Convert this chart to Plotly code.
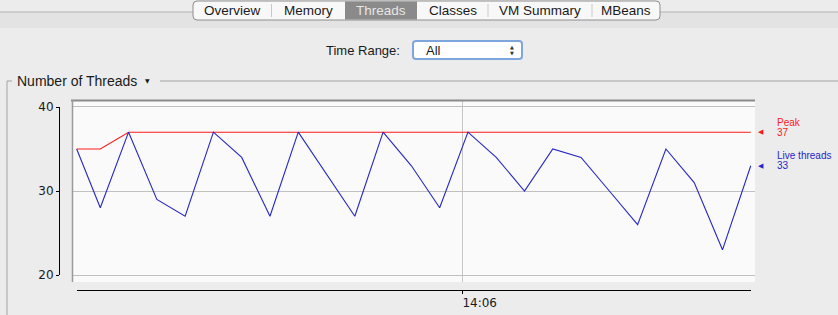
import plotly.graph_objects as go

W, H = 838, 315

# ---------------- data ----------------
times = [
    "2013-01-01 14:05:05.40", "2013-01-01 14:05:08.74", "2013-01-01 14:05:12.74",
    "2013-01-01 14:05:16.74", "2013-01-01 14:05:20.74", "2013-01-01 14:05:24.74",
    "2013-01-01 14:05:28.74", "2013-01-01 14:05:32.74", "2013-01-01 14:05:36.74",
    "2013-01-01 14:05:40.74", "2013-01-01 14:05:44.74", "2013-01-01 14:05:48.74",
    "2013-01-01 14:05:52.74", "2013-01-01 14:05:56.74", "2013-01-01 14:06:00.74",
    "2013-01-01 14:06:04.74", "2013-01-01 14:06:08.74", "2013-01-01 14:06:12.74",
    "2013-01-01 14:06:16.74", "2013-01-01 14:06:20.74", "2013-01-01 14:06:24.74",
    "2013-01-01 14:06:28.74", "2013-01-01 14:06:32.74", "2013-01-01 14:06:36.74",
    "2013-01-01 14:06:40.74",
]
live_threads = [35, 28, 37, 29, 27, 37, 34, 27, 37, 32, 27, 37, 33, 28, 37,
                34, 30, 35, 34, 30, 26, 35, 31, 23, 33]
peak_threads = [35, 35, 37, 37, 37, 37, 37, 37, 37, 37, 37, 37, 37, 37, 37,
                37, 37, 37, 37, 37, 37, 37, 37, 37, 37]
y_ticks = [20, 30, 40]
tabs = ["Overview", "Memory", "Threads", "Classes", "VM Summary", "MBeans"]
selected_tab = "Threads"
series_names = ["Peak", "Live threads"]
series_colors = ["#ff1a1a", "#2626c8"]

# ---------------- helpers (pixel -> paper) ----------------
def X(px):
    return px / W

def Y(py):
    return 1 - py / H

UI_FONT = "Liberation Sans"
AX_FONT = "DejaVu Sans"

fig = go.Figure()

# data traces on the main (background/grid) axes
fig.add_trace(go.Scatter(x=times, y=peak_threads, mode="lines", name=series_names[0],
                         line=dict(color=series_colors[0], width=1.1), showlegend=False,
                         hoverinfo="skip"))
fig.add_trace(go.Scatter(x=times, y=live_threads, mode="lines", name=series_names[1],
                         line=dict(color=series_colors[1], width=1.1), showlegend=False,
                         hoverinfo="skip"))
# invisible trace so the detached axes (labels) get drawn
fig.add_trace(go.Scatter(x=times, y=live_threads, mode="lines", xaxis="x2", yaxis="y2",
                         line=dict(width=0), opacity=0, showlegend=False, hoverinfo="skip"))

shapes = []
annotations = []

# ---- header band & tabs ----
shapes.append(dict(type="rect", xref="paper", yref="paper", x0=0, x1=1, y0=Y(28), y1=Y(12),
                   fillcolor="#e3e3e3", line=dict(width=0), layer="below"))
shapes.append(dict(type="line", xref="paper", yref="paper", x0=0, x1=1, y0=Y(12), y1=Y(12),
                   line=dict(color="#b4b4b4", width=1), layer="below"))

tab_edges = [193, 271.5, 345, 417, 488, 592, 660]
tx0, tx1, ty0, ty1 = tab_edges[0], tab_edges[-1], 1, 20
r = 4
path = (f"M {X(tx0 + r)},{Y(ty0)} L {X(tx1 - r)},{Y(ty0)} Q {X(tx1)},{Y(ty0)} {X(tx1)},{Y(ty0 + r)} "
        f"L {X(tx1)},{Y(ty1 - r)} Q {X(tx1)},{Y(ty1)} {X(tx1 - r)},{Y(ty1)} "
        f"L {X(tx0 + r)},{Y(ty1)} Q {X(tx0)},{Y(ty1)} {X(tx0)},{Y(ty1 - r)} "
        f"L {X(tx0)},{Y(ty0 + r)} Q {X(tx0)},{Y(ty0)} {X(tx0 + r)},{Y(ty0)} Z")
shapes.append(dict(type="path", xref="paper", yref="paper", path=path,
                   fillcolor="#f8f8f8", line=dict(color="#8e8e8e", width=1), layer="below"))
for i, name in enumerate(tabs):
    a, b = tab_edges[i], tab_edges[i + 1]
    sel = name == selected_tab
    if sel:
        shapes.append(dict(type="rect", xref="paper", yref="paper", x0=X(a), x1=X(b),
                           y0=Y(ty1 - 0.5), y1=Y(ty0 + 0.5), fillcolor="#8a8a8a",
                           line=dict(width=0), layer="below"))
    elif i > 0 and tabs[i - 1] != selected_tab:
        shapes.append(dict(type="line", xref="paper", yref="paper", x0=X(a), x1=X(a),
                           y0=Y(ty1 - 3), y1=Y(ty0 + 3), line=dict(color="#c8c8c8", width=1),
                           layer="below"))
    annotations.append(dict(text=name, xref="paper", yref="paper", x=X((a + b) / 2), y=Y(10.5),
                            xanchor="center", yanchor="middle", showarrow=False,
                            font=dict(family=UI_FONT, size=13.5,
                                      color="#e6e6e6" if sel else "#1a1a1a")))

# ---- Time Range control ----
annotations.append(dict(text="Time Range:", xref="paper", yref="paper", x=X(402), y=Y(50),
                        xanchor="right", yanchor="middle", showarrow=False,
                        font=dict(family=UI_FONT, size=13, color="#1a1a1a")))
dx0, dx1, dy0, dy1 = 413, 522, 41, 59
r = 3
dpath = (f"M {X(dx0 + r)},{Y(dy0)} L {X(dx1 - r)},{Y(dy0)} Q {X(dx1)},{Y(dy0)} {X(dx1)},{Y(dy0 + r)} "
         f"L {X(dx1)},{Y(dy1 - r)} Q {X(dx1)},{Y(dy1)} {X(dx1 - r)},{Y(dy1)} "
         f"L {X(dx0 + r)},{Y(dy1)} Q {X(dx0)},{Y(dy1)} {X(dx0)},{Y(dy1 - r)} "
         f"L {X(dx0)},{Y(dy0 + r)} Q {X(dx0)},{Y(dy0)} {X(dx0 + r)},{Y(dy0)} Z")
shapes.append(dict(type="path", xref="paper", yref="paper", path=dpath,
                   fillcolor="#ffffff", line=dict(color="#7ea6dc", width=2), layer="below"))
annotations.append(dict(text="All", xref="paper", yref="paper", x=X(424), y=Y(50),
                        xanchor="left", yanchor="middle", showarrow=False,
                        font=dict(family=UI_FONT, size=13, color="#1a1a1a")))
annotations.append(dict(text="▲", xref="paper", yref="paper", x=X(512), y=Y(47),
                        xanchor="center", yanchor="middle", showarrow=False,
                        font=dict(family=AX_FONT, size=5, color="#333333")))
annotations.append(dict(text="▼", xref="paper", yref="paper", x=X(512), y=Y(53),
                        xanchor="center", yanchor="middle", showarrow=False,
                        font=dict(family=AX_FONT, size=5, color="#333333")))

# ---- group box "Number of Threads" ----
gcol = "#a3a3a3"
shapes.append(dict(type="line", xref="paper", yref="paper", x0=X(7), x1=X(7), y0=Y(81), y1=0,
                   line=dict(color=gcol, width=1), layer="below"))
shapes.append(dict(type="line", xref="paper", yref="paper", x0=X(7), x1=X(12), y0=Y(81), y1=Y(81),
                   line=dict(color=gcol, width=1), layer="below"))
shapes.append(dict(type="line", xref="paper", yref="paper", x0=X(160), x1=1, y0=Y(81), y1=Y(81),
                   line=dict(color=gcol, width=1), layer="below"))
annotations.append(dict(text="Number of Threads", xref="paper", yref="paper", x=X(15), y=Y(81),
                        xanchor="left", yanchor="middle", showarrow=False,
                        font=dict(family=UI_FONT, size=14, color="#1a1a1a")))
annotations.append(dict(text="▼", xref="paper", yref="paper", x=X(147), y=Y(81),
                        xanchor="center", yanchor="middle", showarrow=False,
                        font=dict(family=AX_FONT, size=6, color="#1a1a1a")))

# ---- plot background & frame borders ----
shapes.append(dict(type="rect", xref="paper", yref="paper", x0=X(72), x1=X(755), y0=Y(282), y1=Y(100),
                   fillcolor="#fafafa", line=dict(width=0), layer="below"))
shapes.append(dict(type="line", xref="paper", yref="paper", x0=X(71), x1=X(755), y0=Y(100.5), y1=Y(100.5),
                   line=dict(color="#8a8a8a", width=2), layer="above"))
shapes.append(dict(type="line", xref="paper", yref="paper", x0=X(72.5), x1=X(72.5), y0=Y(100), y1=Y(282),
                   line=dict(color="#9a9a9a", width=1.5), layer="above"))

# ---- right-side legend (values at the last sample) ----
for name, color, vals, in zip(series_names, series_colors, [peak_threads, live_threads]):
    last = vals[-1]
    annotations.append(dict(text="◀", xref="paper", yref="y", x=X(761), y=last,
                            xanchor="center", yanchor="middle", showarrow=False,
                            font=dict(family=AX_FONT, size=7, color=color)))
    annotations.append(dict(text=str(last), xref="paper", yref="y", x=X(774.5), y=last,
                            xanchor="left", yanchor="middle", showarrow=False,
                            font=dict(family=UI_FONT, size=10, color=color)))
    annotations.append(dict(text=name, xref="paper", yref="y", x=X(774.5), y=last, yshift=10,
                            xanchor="left", yanchor="middle", showarrow=False,
                            font=dict(family=UI_FONT, size=10, color=color)))

fig.update_layout(
    width=W, height=H, autosize=False,
    margin=dict(l=0, r=0, t=0, b=0, pad=0, autoexpand=False),
    paper_bgcolor="#ececec",
    plot_bgcolor="rgba(0,0,0,0)",
    showlegend=False,
    hovermode=False,
    shapes=shapes,
    annotations=annotations,
    xaxis=dict(domain=[X(72), X(755)], type="date",
               range=["2013-01-01 14:05:04.74", "2013-01-01 14:06:41.34"],
               tick0="2013-01-01 14:06:00", dtick=60000,
               showgrid=True, gridcolor="#c6c6c6", gridwidth=1,
               showticklabels=False, ticks="", showline=False, zeroline=False),
    yaxis=dict(domain=[Y(282), Y(100)], range=[19.17, 40.83],
               tickvals=y_ticks, showgrid=True, gridcolor="#c0c0c0", gridwidth=1,
               showticklabels=False, ticks="", showline=False, zeroline=False),
    xaxis2=dict(domain=[X(76.7), X(750.7)], type="date", anchor="free", position=Y(290),
                range=["2013-01-01 14:05:05.40", "2013-01-01 14:06:40.74"],
                tick0="2013-01-01 14:06:00", dtick=60000, tickformat="%H:%M",
                showgrid=False, zeroline=False,
                showline=True, linecolor="#000000", linewidth=1.2,
                ticks="outside", ticklen=3, tickcolor="#000000",
                ticklabelshift=17, ticklabelstandoff=-2,
                tickfont=dict(family=AX_FONT, size=12, color="#1a1a1a")),
    yaxis2=dict(domain=[Y(275), Y(107)], anchor="free", position=X(59),
                range=[20, 40], tickvals=y_ticks,
                showgrid=False, zeroline=False,
                showline=True, linecolor="#000000", linewidth=1.2,
                ticks="outside", ticklen=3, tickcolor="#000000",
                tickfont=dict(family=AX_FONT, size=12, color="#1a1a1a")),
)

post = (
    "document.documentElement.style.margin='0';"
    "document.documentElement.style.padding='0';"
    "document.documentElement.style.background='#ececec';"
    "document.body.style.margin='0';document.body.style.padding='0';"
    "document.body.style.overflow='hidden';document.body.style.background='#ececec';"
    "var gd=document.getElementById('{plot_id}');"
    "gd.style.position='absolute';gd.style.left='0px';gd.style.top='0px';"
    "gd.style.width='838px';gd.style.height='315px';"
    "Plotly.relayout(gd,{width:838,height:315});"
)

fig.write_html("out.html", config={"displayModeBar": False, "staticPlot": True, "responsive": False},
               post_script=post)
